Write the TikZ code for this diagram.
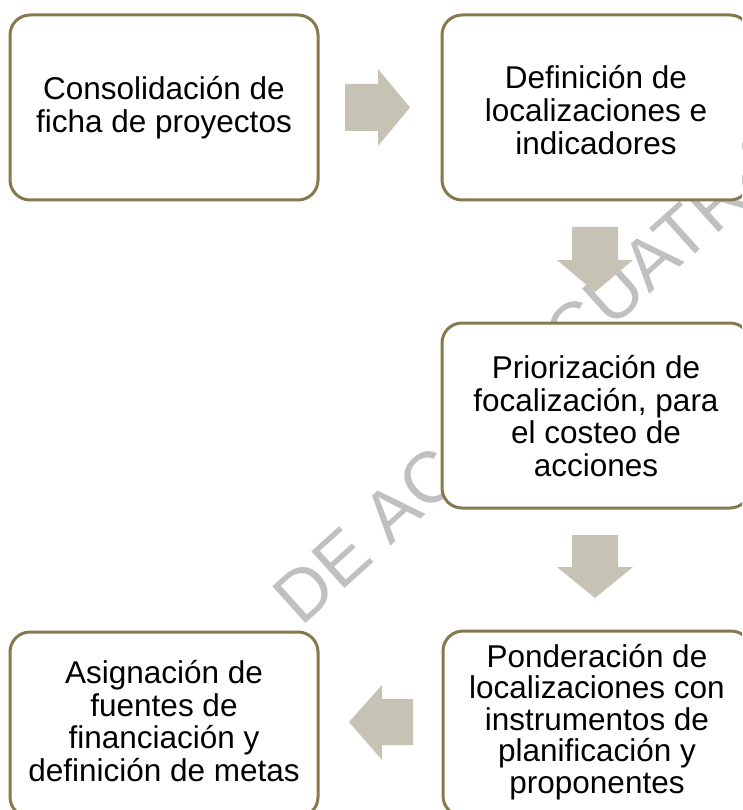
\documentclass[tikz,border=0pt]{standalone}
\usepackage{fontspec}
\setmainfont{Liberation Sans}
\definecolor{boxborder}{RGB}{133,122,78}
\definecolor{arrowfill}{RGB}{198,195,181}
\definecolor{wmark}{RGB}{192,192,192}
\begin{document}
\begin{tikzpicture}[x=1pt,y=-1pt,
  stepbox/.style={draw=boxborder, line width=3pt, rounded corners=20pt, fill=white,
    minimum width=308pt, minimum height=185pt, inner sep=0pt, outer sep=0pt},
  boxtext/.style={align=center, font=\fontsize{31.5}{33}\selectfont, inner sep=0pt},
  flowarrow/.style={fill=arrowfill, draw=none},
  wm/.style={text=wmark, font=\fontsize{72}{80}\selectfont, rotate=42, inner sep=0pt}]
\useasboundingbox (0,0) rectangle (742,810);
\clip (0,0) rectangle (742,810);
\fill[white] (0,0) rectangle (742,810);
% watermark
\node[wm] (wm1) at (367,535) {DE AC};
\node[wm] (wm2) at (667,246) {CUATRO};
% boxes
\node[stepbox] (b1) at (164,107.5) {};
\node[stepbox] (b2) at (596,107.5) {};
\node[stepbox] (b3) at (596,415.5) {};
\node[stepbox] (b4) at (597,723.5) {};
\node[stepbox] (b5) at (164,724.5) {};
% texts
\node[boxtext] (t1) at (164,108) {Consolidación de\\ficha de proyectos};
\node[boxtext] (t2) at (596,110) {Definición de\\localizaciones e\\indicadores};
\node[boxtext, font=\fontsize{31.5}{32.7}\selectfont] (t3) at (596,416) {Priorización de\\focalización, para\\el costeo de\\acciones};
\node[boxtext, font=\fontsize{31.5}{31.6}\selectfont] (t4) at (597,722) {Ponderación de\\localizaciones con\\instrumentos de\\planificación y\\proponentes};
\node[boxtext, font=\fontsize{31.5}{32.5}\selectfont] (t5) at (164,721) {Asignación de\\fuentes de\\financiación y\\definición de metas};
% arrows
\fill[flowarrow] (345,84) -- (378,84) -- (378,69) -- (410,107.5) -- (378,146) -- (378,131) -- (345,131) -- cycle;
\fill[flowarrow] (572,227) -- (618,227) -- (618,260) -- (633,260) -- (595,292) -- (557,260) -- (572,260) -- cycle;
\fill[flowarrow] (572,535) -- (618,535) -- (618,567) -- (633,567) -- (595,598) -- (557,567) -- (572,567) -- cycle;
\fill[flowarrow] (413,699) -- (382,699) -- (382,685) -- (349,722) -- (382,760) -- (382,745) -- (413,745) -- cycle;
\end{tikzpicture}
\end{document}
